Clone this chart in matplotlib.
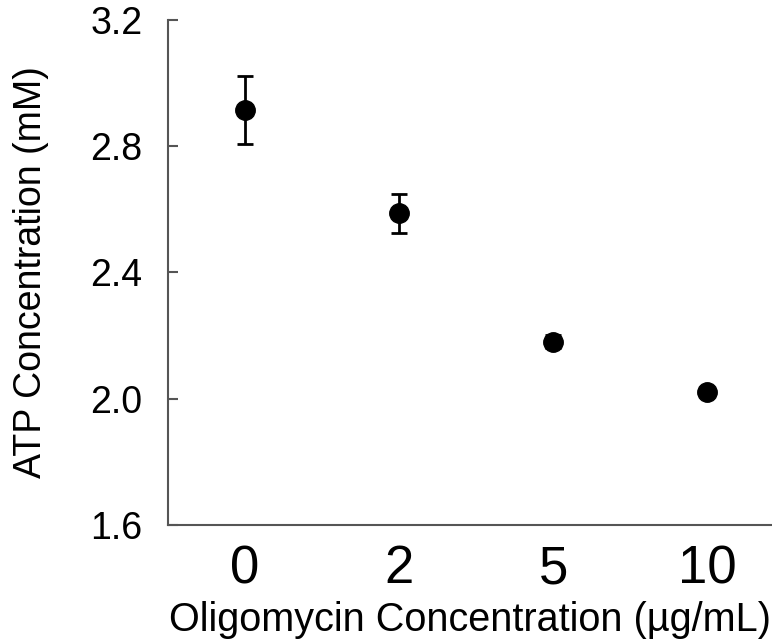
import matplotlib
matplotlib.use("Agg")
import matplotlib.pyplot as plt

plt.rcParams['font.family'] = ['Liberation Sans', 'DejaVu Sans']

# data
doses = ["0", "2", "5", "10"]
atp = [2.915, 2.588, 2.180, 2.020]
atp_err = [0.107, 0.062, 0.021, 0.006]

fig = plt.figure(figsize=(7.72, 6.44), dpi=100)
ax = fig.add_axes([0.2176, 0.185, 0.7824, 0.784])

xpos = range(len(doses))
ax.errorbar(xpos, atp, yerr=atp_err, fmt='o', color='black', ms=14,
            ecolor='black', elinewidth=2, capsize=6, capthick=2)

ax.set_xlim(-0.5, 3.42)
ax.set_ylim(1.6, 3.2)
ax.set_yticks([1.6, 2.0, 2.4, 2.8, 3.2])
ax.set_yticklabels(["1.6", "2.0", "2.4", "2.8", "3.2"])
ax.set_xticks(list(xpos))
ax.set_xticklabels(doses)

for s in ['top', 'right']:
    ax.spines[s].set_visible(False)
for s in ['left', 'bottom']:
    ax.spines[s].set_color('#555555')
    ax.spines[s].set_linewidth(1.5)

ax.tick_params(axis='y', direction='in', length=7, width=1.5, color='#555555',
               labelsize=27, pad=18.5)
ax.tick_params(axis='x', length=0, labelsize=38, pad=14)

ax.set_xlabel("Oligomycin Concentration (µg/mL)", fontsize=28.5)
ax.xaxis.set_label_coords(0.5, -0.151)
ax.set_ylabel("ATP Concentration (mM)", fontsize=27)
ax.yaxis.set_label_coords(-0.197, 0.5)

fig.savefig("out.png", dpi=100)
